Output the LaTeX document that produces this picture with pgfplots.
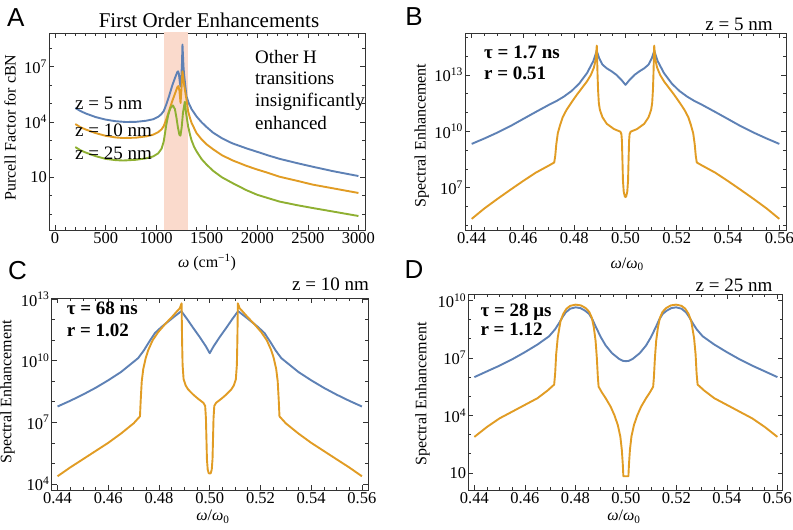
\documentclass[border=0pt]{standalone}
\usepackage{pgfplots}
\pgfplotsset{compat=1.18}
\usepackage{fontspec}
\setmainfont{Liberation Serif}
\newfontfamily\panelfont{Liberation Sans}
\definecolor{mblue}{RGB}{94,129,181}
\definecolor{morange}{RGB}{225,156,36}
\definecolor{mgreen}{RGB}{143,176,50}
\definecolor{band}{RGB}{250,218,204}
\newcommand\tickfont{\fontsize{16.5}{19}\selectfont}
\newcommand\labfont{\fontsize{16}{19}\selectfont}
\newcommand\annfont{\fontsize{19}{22}\selectfont}
\newcommand\titlefont{\fontsize{21}{25}\selectfont}
\newcommand\letterfont{\panelfont\fontsize{26}{30}\selectfont}
\pgfplotsset{every axis/.append style={
  scale only axis,
  axis line style={black!80, line width=0.7pt},
  major tick style={black!80, line width=0.6pt},
  minor tick style={black!80, line width=0.6pt},
  major tick length=5pt, minor tick length=2.8pt,
  tick align=inside,
  tick label style={font=\tickfont},
  xticklabel style={inner sep=2pt},
  yticklabel style={inner sep=2pt},
  label style={font=\labfont},
  xlabel style={anchor=center},
  ylabel style={anchor=center},
}}
\pgfplotsset{every axis plot/.append style={line width=1.9pt, line join=round, mark=none}}
\begin{document}
\begin{tikzpicture}
\path[use as bounding box] (0pt,0pt) rectangle (793pt,530pt);
% ---------------- Panel A ----------------
\begin{semilogyaxis}[at={(49pt,300pt)}, anchor=south west, width=316pt, height=197pt,
  xmin=-60, xmax=3065, ymin=0.0138, ymax=6.76e8,
  xtick={0,500,1000,1500,2000,2500,3000}, xticklabels={0,500,1000,1500,2000,2500,3000},
  minor x tick num=4,
  ytick={10,1e4,1e7}, yticklabels={10,10\textsuperscript{4},10\textsuperscript{7}},
  minor ytick={0.1,1,100,1000,1e5,1e6,1e8},
  xlabel={\textit{ω} (cm\textsuperscript{−1})}, ylabel={Purcell Factor for cBN},
  xlabel style={at={(axis description cs:0.5,-0.165)}},
  ylabel style={at={(axis description cs:-0.1234,0.52)}},
]
\addplot[draw=none, fill=band] coordinates {(1076,1e-3) (1316,1e-3) (1316,1e10) (1076,1e10)};
\addplot[mblue] coordinates {
(200,5.75e4) (250,3.98e4) (300,2.95e4) (400,1.86e4) (500,1.35e4) (600,1.10e4) (700,1.0e4)
(800,1.02e4) (900,1.17e4) (970,1.41e4) (1020,1.91e4) (1050,2.63e4) (1075,3.98e4)
(1100,8.91e4) (1130,2.82e5) (1160,1e6) (1190,2.82e6) (1210,5.25e6) (1217,5.62e6)
(1225,3.98e6) (1235,1.26e6) (1241,8.51e5) (1248,2e6) (1255,1.58e7) (1260,1.58e8)
(1265,3.98e7) (1270,1e7) (1276,3.72e6) (1300,2.45e5) (1320,1.12e5) (1350,5.01e4)
(1399,2e4) (1450,9.55e3) (1500,5.25e3) (1563,2.63e3) (1650,1.32e3) (1750,708)
(1892,372) (2000,240) (2100,158) (2221,100) (2400,57.5) (2550,37.2) (2750,21.4) (3000,11.7)};
\addplot[morange] coordinates {
(200,7.76e3) (250,5.25e3) (300,3.98e3) (400,2.51e3) (500,1.78e3) (600,1.45e3) (674,1.35e3)
(800,1.41e3) (900,1.66e3) (970,2.04e3) (1020,2.82e3) (1053,3.98e3) (1075,6.03e3)
(1100,1.41e4) (1130,4.47e4) (1160,1.41e5) (1190,3.98e5) (1210,7.94e5) (1220,8.91e5)
(1230,5.01e5) (1241,1.07e5) (1250,6.31e5) (1260,5.62e6) (1268,2.51e6) (1276,1.07e6)
(1300,1.58e5) (1316,3.80e4) (1335,1.58e4) (1350,8.91e3) (1399,2.51e3) (1450,1.12e3)
(1500,603) (1563,331) (1650,158) (1750,85.1) (1892,41.7) (2000,26.3) (2100,17.8)
(2221,10.7) (2400,6.31) (2550,3.98) (2750,2.51) (3000,1.41)};
\addplot[mgreen] coordinates {
(200,437) (250,295) (300,224) (400,141) (500,100) (600,85.1) (674,81.3) (800,89.1)
(900,107) (970,135) (1020,200) (1053,355) (1075,891) (1100,7.08e3) (1120,2.51e4)
(1140,5.62e4) (1165,7.94e4) (1185,5.01e4) (1200,1.78e4) (1215,5.01e3) (1230,2e3)
(1240,1.82e3) (1252,5.01e3) (1265,3.16e4) (1283,1.26e5) (1295,3.16e4) (1316,5.75e3)
(1335,2e3) (1350,1e3) (1375,447) (1400,251) (1450,95.5) (1500,47.9) (1563,22.4)
(1650,10) (1750,5.01) (1892,2) (2000,1.12) (2100,0.759) (2221,0.479) (2400,0.302)
(2550,0.214) (2750,0.138) (3000,0.0794)};
\end{semilogyaxis}
% ---------------- Panel B ----------------
\begin{semilogyaxis}[at={(465pt,300pt)}, anchor=south west, width=321pt, height=197pt,
  xmin=0.4374, xmax=0.5626, ymin=5.62e4, ymax=1.7e15,
  xtick={0.44,0.46,0.48,0.50,0.52,0.54,0.56},
  xticklabels={0.44,0.46,0.48,0.50,0.52,0.54,0.56}, minor x tick num=3,
  ytick={1e7,1e10,1e13},
  yticklabels={10\textsuperscript{7},10\textsuperscript{10},10\textsuperscript{13}},
  minor ytick={1e5,1e6,1e8,1e9,1e11,1e12,1e14,1e15},
  xlabel={\textit{ω}/\textit{ω}\textsubscript{0}}, ylabel={Spectral Enhancement},
  xlabel style={at={(axis description cs:0.505,-0.175)}},
  ylabel style={at={(axis description cs:-0.135,0.48)}},
]
\addplot[mblue] coordinates {
(0.4400,2.14e9) (0.4450,4.17e9) (0.4500,8.51e9) (0.4550,1.86e10) (0.4600,4.47e10)
(0.4650,1.07e11) (0.4700,2.51e11) (0.4732,4.17e11) (0.4760,7.08e11) (0.4790,1.41e12)
(0.4820,3.55e12) (0.4850,1.26e13) (0.4875,5.62e13) (0.4888,1.91e14) (0.4897,7.94e13)
(0.4910,3.55e13) (0.4927,2.24e13) (0.4945,1.58e13) (0.4965,1e13) (0.4985,5.25e12)
(0.5000,2.95e12)
(0.5015,5.25e12) (0.5035,1e13) (0.5055,1.58e13) (0.5073,2.24e13) (0.5090,3.55e13)
(0.5103,7.94e13) (0.5112,1.91e14) (0.5125,5.62e13) (0.5150,1.26e13) (0.5180,3.55e12)
(0.5210,1.41e12) (0.5240,7.08e11) (0.5268,4.17e11) (0.5300,2.51e11) (0.5350,1.07e11)
(0.5400,4.47e10) (0.5450,1.86e10) (0.5500,8.51e9) (0.5550,4.17e9) (0.5600,2.14e9)};
\addplot[morange] coordinates {
(0.4400,2.19e5) (0.4450,7.94e5) (0.4500,2.51e6) (0.4550,7.59e6) (0.4600,2.24e7)
(0.4650,6.31e7) (0.4700,1.48e8) (0.4722,2.19e8) (0.4726,5.01e8) (0.4730,2e9)
(0.4736,7.94e9) (0.4745,2.19e10) (0.4755,5.62e10) (0.4770,1.38e11) (0.4790,3.55e11)
(0.4810,8.71e11) (0.4830,2e12) (0.4849,4.37e12) (0.4865,1e13) (0.4877,2.51e13)
(0.4884,7.08e13) (0.4888,3.63e14) (0.4891,1e13) (0.4893,1.58e12) (0.4896,3.16e11)
(0.4900,1.41e11) (0.4910,5.62e10) (0.4927,2.51e10) (0.4955,1.32e10) (0.4980,9.55e9)
(0.4984,7.08e9) (0.4986,3.16e9) (0.4988,3.16e8) (0.4990,2.51e7) (0.4993,6.31e6)
(0.4997,3.55e6) (0.5000,3.16e6)
(0.5003,3.55e6) (0.5007,6.31e6) (0.5010,2.51e7) (0.5012,3.16e8) (0.5014,3.16e9)
(0.5016,7.08e9) (0.5020,9.55e9) (0.5045,1.32e10) (0.5073,2.51e10) (0.5090,5.62e10)
(0.5100,1.41e11) (0.5104,3.16e11) (0.5107,1.58e12) (0.5109,1e13) (0.5112,3.63e14)
(0.5116,7.08e13) (0.5123,2.51e13) (0.5135,1e13) (0.5151,4.37e12) (0.5170,2e12)
(0.5190,8.71e11) (0.5210,3.55e11) (0.5230,1.38e11) (0.5245,5.62e10) (0.5255,2.19e10)
(0.5264,7.94e9) (0.5270,2e9) (0.5274,5.01e8) (0.5278,2.19e8) (0.5300,1.48e8)
(0.5350,6.31e7) (0.5400,2.24e7) (0.5450,7.59e6) (0.5500,2.51e6) (0.5550,7.94e5)
(0.5600,2.19e5)};
\end{semilogyaxis}
% ---------------- Panel C ----------------
\begin{semilogyaxis}[at={(51.7pt,40pt)}, anchor=south west, width=316.3pt, height=192pt,
  xmin=0.4377, xmax=0.5624, ymin=5.01e3, ymax=1.15e13,
  xtick={0.44,0.46,0.48,0.50,0.52,0.54,0.56},
  xticklabels={0.44,0.46,0.48,0.50,0.52,0.54,0.56}, minor x tick num=3,
  ytick={1e4,1e7,1e10,1e13},
  yticklabels={10\textsuperscript{4},10\textsuperscript{7},10\textsuperscript{10},10\textsuperscript{13}},
  minor ytick={1e5,1e6,1e8,1e9,1e11,1e12},
  xlabel={\textit{ω}/\textit{ω}\textsubscript{0}}, ylabel={Spectral Enhancement},
  xlabel style={at={(axis description cs:0.51,-0.139)}},
  ylabel style={at={(axis description cs:-0.14,0.51)}},
]
\addplot[mblue] coordinates {
(0.4400,5.89e7) (0.4450,1.12e8) (0.4500,2.24e8) (0.4550,4.79e8) (0.4600,1.12e9)
(0.4650,2.82e9) (0.4718,1.35e10) (0.4740,3.16e10) (0.4760,7.94e10) (0.4784,2.24e11)
(0.4810,4.47e11) (0.4836,8.13e11) (0.4860,1.41e12) (0.4888,2.63e12) (0.4898,1.78e12)
(0.4910,1.12e12) (0.4935,3.98e11) (0.4961,1.41e11) (0.4985,5.01e10) (0.5000,2.34e10)
(0.5015,5.01e10) (0.5039,1.41e11) (0.5065,3.98e11) (0.5090,1.12e12) (0.5102,1.78e12)
(0.5112,2.63e12) (0.5140,1.41e12) (0.5164,8.13e11) (0.5190,4.47e11) (0.5216,2.24e11)
(0.5240,7.94e10) (0.5260,3.16e10) (0.5282,1.35e10) (0.5350,2.82e9) (0.5400,1.12e9)
(0.5450,4.79e8) (0.5500,2.24e8) (0.5550,1.12e8) (0.5600,5.89e7)};
\addplot[morange] coordinates {
(0.4400,2.34e4) (0.4450,6.31e4) (0.4500,1.58e5) (0.4550,3.98e5) (0.4600,1e6)
(0.4650,2.82e6) (0.4700,8.91e6) (0.4725,1.95e7) (0.4728,1.26e8) (0.4732,1e9)
(0.4738,3.98e9) (0.4748,1.41e10) (0.4758,3.39e10) (0.4775,1e11) (0.4797,2.51e11)
(0.4825,6.31e11) (0.4850,1.32e12) (0.4870,2.51e12) (0.4882,3.63e12) (0.4889,6.31e12)
(0.4891,1e11) (0.4893,6.31e9) (0.4897,1.26e9) (0.4905,6.31e8) (0.4915,3.98e8)
(0.4935,2.24e8) (0.4954,1.41e8) (0.4975,8.91e7) (0.4982,6.31e7) (0.4985,1.58e7)
(0.4987,1.58e6) (0.4989,1.58e5) (0.4992,5.01e4) (0.4996,3.31e4) (0.5000,3.16e4)
(0.5004,3.31e4) (0.5008,5.01e4) (0.5011,1.58e5) (0.5013,1.58e6) (0.5015,1.58e7)
(0.5018,6.31e7) (0.5025,8.91e7) (0.5046,1.41e8) (0.5065,2.24e8) (0.5085,3.98e8)
(0.5095,6.31e8) (0.5103,1.26e9) (0.5107,6.31e9) (0.5109,1e11) (0.5111,6.31e12)
(0.5118,3.63e12) (0.5130,2.51e12) (0.5150,1.32e12) (0.5175,6.31e11) (0.5203,2.51e11)
(0.5225,1e11) (0.5242,3.39e10) (0.5252,1.41e10) (0.5262,3.98e9) (0.5268,1e9)
(0.5272,1.26e8) (0.5275,1.95e7) (0.5300,8.91e6) (0.5350,2.82e6) (0.5400,1e6)
(0.5450,3.98e5) (0.5500,1.58e5) (0.5550,6.31e4) (0.5600,2.34e4)};
\end{semilogyaxis}
% ---------------- Panel D ----------------
\begin{semilogyaxis}[at={(468.3pt,40pt)}, anchor=south west, width=314.4pt, height=195.7pt,
  xmin=0.4376, xmax=0.5621, ymin=1.29, ymax=2.09e10,
  xtick={0.44,0.46,0.48,0.50,0.52,0.54,0.56},
  xticklabels={0.44,0.46,0.48,0.50,0.52,0.54,0.56}, minor x tick num=3,
  ytick={10,1e4,1e7,1e10},
  yticklabels={10,10\textsuperscript{4},10\textsuperscript{7},10\textsuperscript{10}},
  minor ytick={100,1000,1e5,1e6,1e8,1e9},
  xlabel={\textit{ω}/\textit{ω}\textsubscript{0}}, ylabel={Spectral Enhancement},
  xlabel style={at={(axis description cs:0.495,-0.136)}},
  ylabel style={at={(axis description cs:-0.146,0.49)}},
]
\addplot[mblue] coordinates {
(0.4400,1e6) (0.4450,2e6) (0.4500,3.98e6) (0.4550,8.51e6) (0.4600,2e7) (0.4650,5.01e7)
(0.4696,1.35e8) (0.4720,3.16e8) (0.4736,6.76e8) (0.4750,1.41e9) (0.4762,2.4e9)
(0.4780,3.72e9) (0.4801,4.37e9) (0.4820,3.98e9) (0.4838,2.95e9) (0.4854,2e9)
(0.4868,1e9) (0.4880,4.47e8) (0.4900,1.26e8) (0.4920,4.47e7) (0.4945,1.78e7)
(0.4973,8.91e6) (0.4988,7.08e6) (0.5000,6.76e6)
(0.5012,7.08e6) (0.5027,8.91e6) (0.5055,1.78e7) (0.5080,4.47e7) (0.5100,1.26e8)
(0.5120,4.47e8) (0.5132,1e9) (0.5146,2e9) (0.5162,2.95e9) (0.5180,3.98e9)
(0.5199,4.37e9) (0.5220,3.72e9) (0.5238,2.4e9) (0.5250,1.41e9) (0.5264,6.76e8)
(0.5280,3.16e8) (0.5304,1.35e8) (0.5350,5.01e7) (0.5400,2e7) (0.5450,8.51e6)
(0.5500,3.98e6) (0.5550,2e6) (0.5600,1e6)};
\addplot[morange] coordinates {
(0.4400,759) (0.4450,2.51e3) (0.4500,7.08e3) (0.4550,1.58e4) (0.4600,3.55e4)
(0.4650,7.94e4) (0.4690,2e5) (0.4716,4.07e5) (0.4720,1.58e6) (0.4724,1.58e7)
(0.4730,1.1e8) (0.4741,8.13e8) (0.4752,2e9) (0.4765,3.72e9) (0.4780,5.25e9)
(0.4801,6.03e9) (0.4822,5.5e9) (0.4841,3.98e9) (0.4855,2.51e9) (0.4865,1.26e9)
(0.4873,3.98e8) (0.4880,7.94e7) (0.4885,1e7) (0.4889,1e6) (0.4892,3.16e5)
(0.4905,1.58e5) (0.4920,7.94e4) (0.4940,2.82e4) (0.4955,1e4) (0.4968,3.16e3)
(0.4978,794) (0.4984,158) (0.4988,25.1) (0.4990,6.76) (0.5010,6.76)
(0.5012,25.1) (0.5016,158) (0.5022,794) (0.5032,3.16e3) (0.5045,1e4) (0.5060,2.82e4)
(0.5080,7.94e4) (0.5095,1.58e5) (0.5108,3.16e5) (0.5111,1e6) (0.5115,1e7)
(0.5120,7.94e7) (0.5127,3.98e8) (0.5135,1.26e9) (0.5145,2.51e9) (0.5159,3.98e9)
(0.5178,5.5e9) (0.5199,6.03e9) (0.5220,5.25e9) (0.5235,3.72e9) (0.5248,2e9)
(0.5259,8.13e8) (0.5270,1.1e8) (0.5276,1.58e7) (0.5280,1.58e6) (0.5284,4.07e5)
(0.5310,2e5) (0.5350,7.94e4) (0.5400,3.55e4) (0.5450,1.58e4) (0.5500,7.08e3)
(0.5550,2.51e3) (0.5600,759)};
\end{semilogyaxis}
% ---------------- Annotations ----------------
\node[font=\titlefont] at (209pt,510pt) {First Order Enhancements};
\node[font=\letterfont] at (15.8pt,512.5pt) {A};
\node[font=\letterfont] at (414pt,513pt) {B};
\node[font=\letterfont] at (17.5pt,259pt) {C};
\node[font=\letterfont] at (414pt,260pt) {D};
\node[font=\annfont] at (739pt,506pt) {z = 5 nm};
\node[font=\annfont] at (330.5pt,246pt) {z = 10 nm};
\node[font=\annfont] at (734pt,245pt) {z = 25 nm};
\begin{scope}[every node/.style={font=\annfont, anchor=west, inner sep=0pt, text height=13pt, text depth=4pt}]
\node at (75pt,425pt) {z = 5 nm};
\node at (75pt,398.3pt) {z = 10 nm};
\node at (75pt,375pt) {z = 25 nm};
\node at (255pt,470.7pt) {Other H};
\node at (255pt,450pt) {transitions};
\node at (255pt,428.3pt) {insignificantly};
\node at (255pt,405pt) {enhanced};
\end{scope}
\begin{scope}[every node/.style={font=\annfont\bfseries, anchor=west, inner sep=0pt, text height=13pt, text depth=4pt}]
\node at (484pt,475.7pt) {τ = 1.7 ns};
\node at (484pt,455pt) {r = 0.51};
\node at (66.7pt,220pt) {τ = 68 ns};
\node at (66.7pt,198.3pt) {r = 1.02};
\node at (480.3pt,218pt) {τ = 28 μs};
\node at (480.3pt,198.7pt) {r = 1.12};
\end{scope}
\end{tikzpicture}
\end{document}
